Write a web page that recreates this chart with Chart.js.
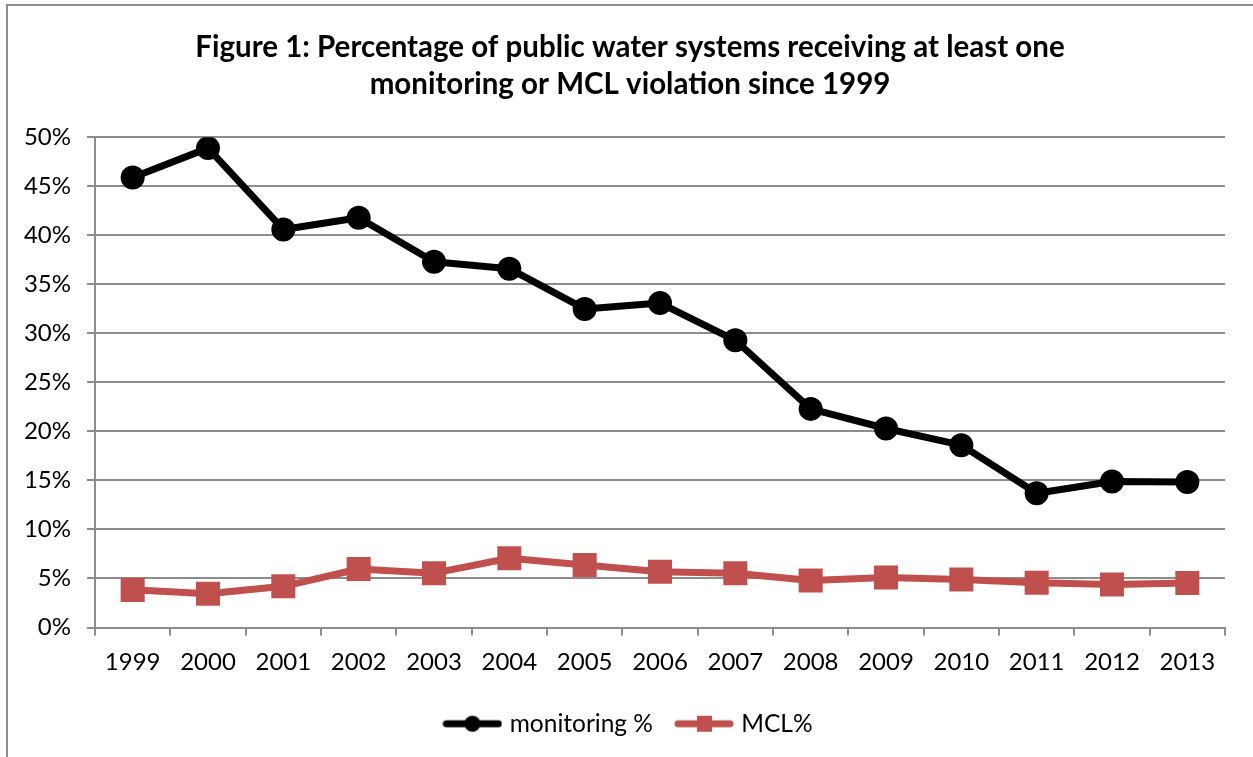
<!DOCTYPE html>
<html>
<head>
<meta charset="utf-8">
<script src="https://cdn.jsdelivr.net/npm/chart.js@4"></script>
<style>
  html, body { margin: 0; padding: 0; background: #fff; }
  #wrap { position: absolute; left: 0; top: 0; width: 1253px; height: 757px; }
</style>
</head>
<body>
<div id="wrap"><canvas id="c" width="1253" height="757"></canvas></div>
<script>
const years = ['1999','2000','2001','2002','2003','2004','2005','2006','2007','2008','2009','2010','2011','2012','2013'];
const monitoring = [45.9, 48.9, 40.6, 41.8, 37.3, 36.6, 32.5, 33.1, 29.3, 22.3, 20.3, 18.6, 13.7, 14.9, 14.85];
const mcl = [3.84, 3.44, 4.2, 5.97, 5.54, 7.06, 6.37, 5.68, 5.54, 4.8, 5.1, 4.9, 4.56, 4.38, 4.53];
const titleLines = ['Figure 1: Percentage of public water systems receiving at least one', 'monitoring or MCL violation since 1999'];
const seriesNames = ['monitoring %', 'MCL%'];

const FONT = 'Lato, "Open Sans", sans-serif';
const BLACK = '#000000';
const RED = '#C0504D';
const GRID = '#8c8c8c';

function legendIcon(color, shape) {
  const c = document.createElement('canvas');
  c.width = 60; c.height = 24;
  const x = c.getContext('2d');
  x.strokeStyle = color; x.lineWidth = 7; x.lineCap = 'round';
  x.beginPath(); x.moveTo(4, 12); x.lineTo(56, 12); x.stroke();
  x.fillStyle = color;
  if (shape === 'circle') { x.beginPath(); x.arc(30, 12, 8, 0, Math.PI * 2); x.fill(); }
  else { x.fillRect(23, 4, 15, 16); }
  return c;
}
const icons = [legendIcon(BLACK, 'circle'), legendIcon(RED, 'rect')];

const borderPlugin = {
  id: 'frame',
  beforeDraw(chart) {
    const ctx = chart.ctx;
    ctx.save();
    ctx.strokeStyle = '#8c8c8c'; ctx.lineWidth = 2;
    ctx.beginPath();
    ctx.moveTo(7, 757); ctx.lineTo(7, 5); ctx.lineTo(1253, 5);
    ctx.stroke();
    ctx.restore();
  }
};

new Chart(document.getElementById('c'), {
  type: 'line',
  data: {
    labels: years,
    datasets: [
      { label: seriesNames[0], data: monitoring, borderColor: BLACK, backgroundColor: BLACK,
        borderWidth: 7, pointStyle: 'circle', pointRadius: 12, pointBorderWidth: 0,
        pointBackgroundColor: BLACK, tension: 0, borderJoinStyle: 'round' },
      { label: seriesNames[1], data: mcl, borderColor: RED, backgroundColor: RED,
        borderWidth: 7, pointStyle: 'rect', pointRadius: 17, pointBorderWidth: 0,
        pointBackgroundColor: RED, tension: 0, borderJoinStyle: 'round' }
    ]
  },
  options: {
    responsive: false,
    animation: false,
    devicePixelRatio: 1,
    layout: { padding: { left: 7, right: 0, top: 5, bottom: 11 } },
    plugins: {
      title: {
        display: true, text: titleLines, color: '#000',
        font: { family: FONT, size: 29.5, weight: 'bold', lineHeight: 1.26 },
        padding: { top: 24, bottom: 34 }
      },
      legend: {
        position: 'bottom',
        labels: {
          color: '#000', font: { family: FONT, size: 24.5 },
          usePointStyle: true, pointStyleWidth: 50, boxHeight: 24, padding: 26,
          generateLabels(chart) {
            return chart.data.datasets.map((d, i) => ({
              text: d.label, pointStyle: icons[i], fillStyle: d.borderColor,
              strokeStyle: d.borderColor, lineWidth: 0, datasetIndex: i, hidden: false
            }));
          }
        }
      },
      tooltip: { enabled: false }
    },
    scales: {
      x: {
        offset: true,
        grid: { offset: true, drawOnChartArea: false, color: GRID, lineWidth: 2, tickLength: 8 },
        border: { color: GRID, width: 2 },
        ticks: { color: '#000', font: { family: FONT, size: 24 }, padding: 12, maxRotation: 0 },
        afterFit(s) { s.height = 58; }
      },
      y: {
        min: 0, max: 50,
        grid: { color: GRID, lineWidth: 2, tickLength: 8 },
        border: { color: GRID, width: 2 },
        ticks: { stepSize: 5, color: '#000', font: { family: FONT, size: 24 }, padding: 16,
          callback: v => v + '%' },
        afterFit(s) { s.width = 88; }
      },
      yr: {
        position: 'right', min: 0, max: 50,
        grid: { display: false }, border: { display: false }, ticks: { display: false },
        afterFit(s) { s.width = 28; }
      }
    }
  },
  plugins: [borderPlugin]
});
</script>
</body>
</html>
